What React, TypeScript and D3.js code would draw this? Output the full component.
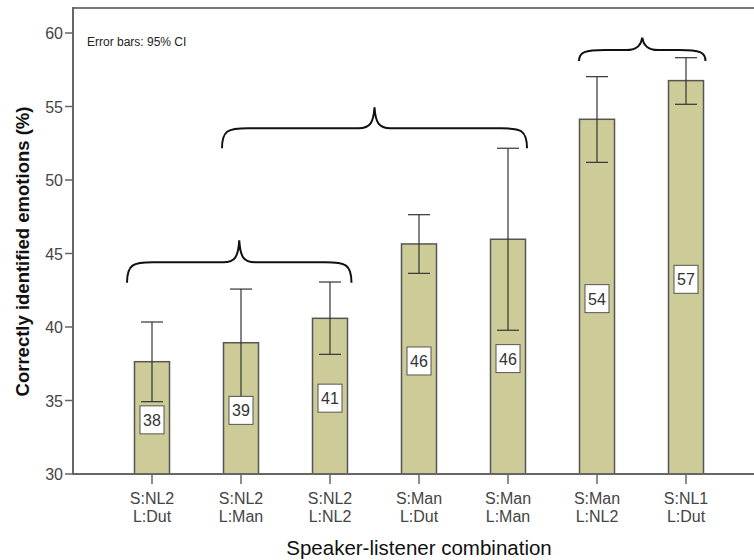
import React from "react";
import * as d3 from "d3";

const categories = ["S:NL2|L:Dut", "S:NL2|L:Man", "S:NL2|L:NL2", "S:Man|L:Dut", "S:Man|L:Man", "S:Man|L:NL2", "S:NL1|L:Dut"];
const means = [37.64, 38.93, 40.59, 45.65, 45.97, 54.13, 56.76];
const ciLow = [34.92, 35.25, 38.14, 43.65, 39.78, 51.2, 55.15];
const ciHigh = [40.34, 42.58, 43.06, 47.64, 52.16, 57.03, 58.32];
const labels = ["38", "39", "41", "46", "46", "54", "57"];
const yTicks = [30, 35, 40, 45, 50, 55, 60];
// brackets: [first category index, last category index, level value of horizontal line]
const bracketFrom = [0, 1, 5];
const bracketTo = [2, 4, 6];
const bracketLevel = [44.4, 53.52, 58.84];

const FONT = "'Liberation Sans', Arial, sans-serif";

export default function App() {
  const W = 754, H = 560;
  const axisX = 73, axisY = 474, topY = 8;
  const y = d3.scaleLinear().domain([30, 60]).range([474, 33]);
  const x = d3.scalePoint<string>().domain(categories).range([152, 686]);
  const bw = 35;
  const leftOff = [-25, -19, -18];
  const rightOff = [21.5, 19, 19.5];
  const drops = [20.5, 20, 11];
  const peaks = [22, 21, 12.5];

  const bracketPath = (x1: number, x2: number, yl: number, drop: number, pk: number) => {
    const mid = (x1 + x2) / 2;
    const peak = yl - pk;
    const r = Math.min(20, (x2 - x1) / 6);
    const p = d3.path();
    p.moveTo(x1, yl + drop);
    p.bezierCurveTo(x1, yl + 2, x1 + 6, yl, x1 + r + 6, yl);
    p.lineTo(mid - 16, yl);
    p.bezierCurveTo(mid - 4, yl, mid - 1, yl - 6, mid, peak);
    p.bezierCurveTo(mid + 1, yl - 6, mid + 4, yl, mid + 16, yl);
    p.lineTo(x2 - r - 6, yl);
    p.bezierCurveTo(x2 - 6, yl, x2, yl + 2, x2, yl + drop);
    return p.toString();
  };

  return (
    <svg width={W} height={H} style={{ position: "absolute", left: 0, top: 0, background: "#fff" }} fontFamily={FONT}>
      <rect x={0} y={0} width={W} height={H} fill="#fff" />
      {/* frame */}
      <line x1={axisX} x2={W} y1={topY} y2={topY} stroke="#777" strokeWidth={2} />
      {/* bars */}
      {categories.map((c, i) => (
        <rect key={c} x={x(c)! - bw / 2} y={y(means[i])} width={bw} height={y(30) - y(means[i])}
          fill="#cdcb97" stroke="#555" strokeWidth={1.5} />
      ))}
      {/* error bars */}
      {categories.map((c, i) => {
        const cx = x(c)!;
        return (
          <g key={"e" + c} stroke="#333" strokeWidth={1.2}>
            <line x1={cx} x2={cx} y1={y(ciHigh[i])} y2={y(ciLow[i])} />
            <line x1={cx - 11} x2={cx + 11} y1={y(ciHigh[i])} y2={y(ciHigh[i])} />
            <line x1={cx - 11} x2={cx + 11} y1={y(ciLow[i])} y2={y(ciLow[i])} />
          </g>
        );
      })}
      {/* value labels */}
      {categories.map((c, i) => {
        const cx = x(c)!;
        const cy = y((30 + means[i]) / 2) + 2;
        return (
          <g key={"l" + c}>
            <rect x={cx - 12} y={cy - 14} width={24} height={28} fill="#fff" stroke="#555" strokeWidth={1} />
            <text x={cx} y={cy + 6} textAnchor="middle" fontSize={16} fill="#333">{labels[i]}</text>
          </g>
        );
      })}
      {/* axes */}
      <line x1={axisX} x2={axisX} y1={topY - 1} y2={axisY} stroke="#666" strokeWidth={2} />
      <line x1={axisX - 1} x2={W} y1={axisY} y2={axisY} stroke="#666" strokeWidth={2} />
      {yTicks.map((t) => (
        <g key={"yt" + t}>
          <line x1={axisX - 8} x2={axisX} y1={y(t)} y2={y(t)} stroke="#666" strokeWidth={1.5} />
          <text x={axisX - 10} y={y(t) + 6} textAnchor="end" fontSize={16} fill="#444">{t}</text>
        </g>
      ))}
      {categories.map((c) => {
        const [l1, l2] = c.split("|");
        const cx = x(c)!;
        return (
          <g key={"xt" + c}>
            <line x1={cx} x2={cx} y1={axisY} y2={axisY + 10} stroke="#666" strokeWidth={1.5} />
            <text x={cx} y={504} textAnchor="middle" fontSize={16} fill="#444">{l1}</text>
            <text x={cx} y={522} textAnchor="middle" fontSize={16} fill="#444">{l2}</text>
          </g>
        );
      })}
      {/* brackets */}
      {bracketFrom.map((f, i) => {
        const x1 = x(categories[f])! + leftOff[i];
        const x2 = x(categories[bracketTo[i]])! + rightOff[i];
        const yl = y(bracketLevel[i]);
        return <path key={"b" + i} d={bracketPath(x1, x2, yl, drops[i], peaks[i])} fill="none" stroke="#111" strokeWidth={2} />;
      })}
      <text x={87} y={46} fontSize={12} fill="#222">Error bars: 95% CI</text>
      <text x={419} y={555} textAnchor="middle" fontSize={20.5} fill="#111">Speaker-listener combination</text>
      <text transform={`translate(29, ${(33 + 474) / 2 - 2}) rotate(-90)`} textAnchor="middle" fontSize={18.5} fontWeight="bold" fill="#111">
        Correctly identified emotions (%)
      </text>
    </svg>
  );
}
